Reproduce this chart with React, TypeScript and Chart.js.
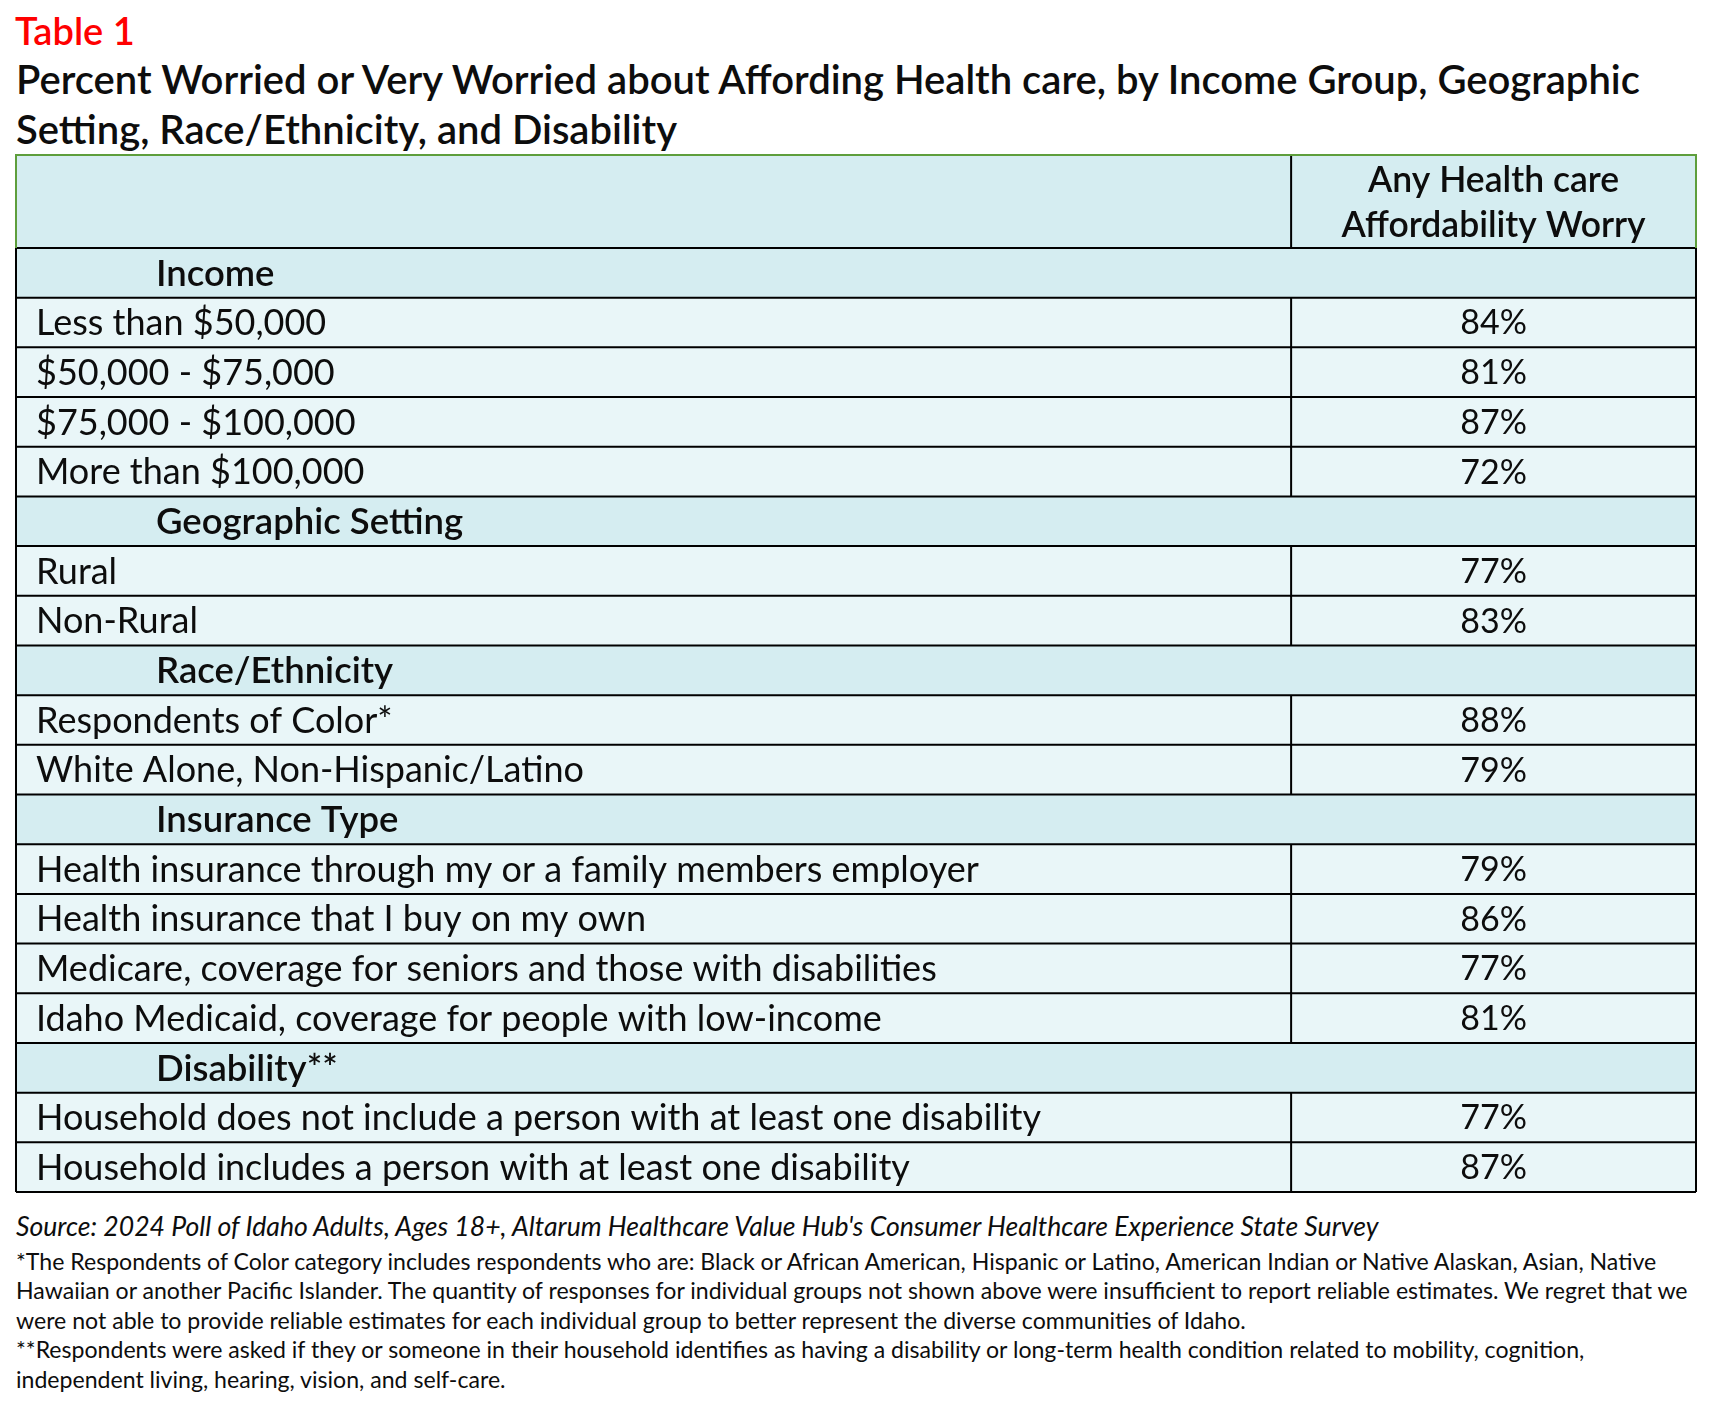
import React, { useEffect, useRef } from "react";
import { Chart, registerables } from "chart.js";

Chart.register(...registerables);

const FONT = "Lato, 'Open Sans', sans-serif";

const tableLabel = "Table 1";
const titleLines = [
  "Percent Worried or Very Worried about Affording Health care, by Income Group, Geographic",
  "Setting, Race/Ethnicity, and Disability",
];
const columnHeader = ["Any Health care", "Affordability Worry"];

const incomeGroups = ["Less than $50,000", "$50,000 - $75,000", "$75,000 - $100,000", "More than $100,000"];
const incomeWorry = [84, 81, 87, 72];

const geoGroups = ["Rural", "Non-Rural"];
const geoWorry = [77, 83];

const raceGroups = ["Respondents of Color*", "White Alone, Non-Hispanic/Latino"];
const raceWorry = [88, 79];

const insuranceGroups = [
  "Health insurance through my or a family members employer",
  "Health insurance that I buy on my own",
  "Medicare, coverage for seniors and those with disabilities",
  "Idaho Medicaid, coverage for people with low-income",
];
const insuranceWorry = [79, 86, 77, 81];

const disabilityGroups = [
  "Household does not include a person with at least one disability",
  "Household includes a person with at least one disability",
];
const disabilityWorry = [77, 87];

const sectionNames = ["Income", "Geographic Setting", "Race/Ethnicity", "Insurance Type", "Disability**"];

const sourceNote =
  "Source: 2024 Poll of Idaho Adults, Ages 18+, Altarum Healthcare Value Hub's Consumer Healthcare Experience State Survey";
const footnoteLines = [
  "*The Respondents of Color category includes respondents who are: Black or African American, Hispanic or Latino, American Indian or Native Alaskan, Asian, Native",
  "Hawaiian or another Pacific Islander. The quantity of responses for individual groups not shown above were insufficient to report reliable estimates. We regret that we",
  "were not able to provide reliable estimates for each individual group to better represent the diverse communities of Idaho.",
  "**Respondents were asked if they or someone in their household identifies as having a disability or long-term health condition related to mobility, cognition,",
  "independent living, hearing, vision, and self-care.",
];

type Row = { label: string; value: number | null; section: boolean };

const groupLabels = [incomeGroups, geoGroups, raceGroups, insuranceGroups, disabilityGroups];
const groupValues = [incomeWorry, geoWorry, raceWorry, insuranceWorry, disabilityWorry];

const rows: Row[] = [];
sectionNames.forEach((name, g) => {
  rows.push({ label: name, value: null, section: true });
  groupLabels[g].forEach((l, i) => rows.push({ label: l, value: groupValues[g][i], section: false }));
});

const SECTION_BG = "#d5edf1";
const DATA_BG = "#e9f6f8";
const HEADER_BG = "#d5edf1";
const GREEN = "#5e9e3c";
const TEXT = "#0d0d0d";
const VALUE_COL_START = 75.9; // percent of table width where the value column begins
const HEADER_H = 93;

const CANVAS_TOP = 150;
const CANVAS_W = 1716;
const CANVAS_H = 1050;

const tablePlugin = {
  id: "tableDraw",
  afterDatasetsDraw(chart: any) {
    const { ctx, chartArea: a, scales } = chart;
    const x = scales.x;
    const y = scales.y;
    const n = rows.length;
    const rowH = (a.bottom - a.top) / n;
    const headerTop = a.top - HEADER_H;
    const divX = x.getPixelForValue(VALUE_COL_START);
    const colCenter = x.getPixelForValue((VALUE_COL_START + 100) / 2);

    ctx.save();
    ctx.fillStyle = HEADER_BG;
    ctx.fillRect(a.left, headerTop, a.right - a.left, HEADER_H);

    ctx.fillStyle = TEXT;
    ctx.textAlign = "center";
    ctx.textBaseline = "middle";
    ctx.font = `600 35.5px ${FONT}`;
    ctx.fillText(columnHeader[0], colCenter, headerTop + 26);
    ctx.fillText(columnHeader[1], colCenter, headerTop + 71);

    rows.forEach((r, i) => {
      const cy = y.getPixelForValue(i) + 1;
      if (r.section) {
        ctx.textAlign = "left";
        ctx.font = `600 36.5px ${FONT}`;
        ctx.fillText(r.label, a.left + 140, cy);
      } else {
        ctx.textAlign = "left";
        ctx.font = `400 36px ${FONT}`;
        ctx.fillText(r.label, a.left + 20, cy);
        ctx.textAlign = "center";
        ctx.font = `400 34px ${FONT}`;
        ctx.fillText(`${r.value}%`, colCenter, cy);
      }
    });

    ctx.strokeStyle = "#000";
    ctx.lineWidth = 2;
    ctx.beginPath();
    for (let k = 0; k <= n; k++) {
      const yy = a.top + k * rowH;
      ctx.moveTo(a.left, yy);
      ctx.lineTo(a.right, yy);
    }
    ctx.moveTo(divX, headerTop);
    ctx.lineTo(divX, a.top);
    rows.forEach((r, i) => {
      if (!r.section) {
        const cy = y.getPixelForValue(i);
        ctx.moveTo(divX, cy - rowH / 2);
        ctx.lineTo(divX, cy + rowH / 2);
      }
    });
    ctx.moveTo(a.left, a.top);
    ctx.lineTo(a.left, a.bottom);
    ctx.moveTo(a.right, a.top);
    ctx.lineTo(a.right, a.bottom);
    ctx.stroke();

    ctx.strokeStyle = GREEN;
    ctx.beginPath();
    ctx.moveTo(a.left, a.top);
    ctx.lineTo(a.left, headerTop);
    ctx.lineTo(a.right, headerTop);
    ctx.lineTo(a.right, a.top);
    ctx.stroke();
    ctx.restore();
  },
};

function TableChart() {
  const ref = useRef<HTMLCanvasElement>(null);
  useEffect(() => {
    if (!ref.current) return;
    const chart = new Chart(ref.current, {
      type: "bar",
      data: {
        labels: rows.map((r) => r.label),
        datasets: [
          {
            label: "rows",
            data: rows.map(() => [0, 100]) as any,
            backgroundColor: rows.map((r) => (r.section ? SECTION_BG : DATA_BG)),
            borderWidth: 0,
            barPercentage: 1,
            categoryPercentage: 1,
          },
        ],
      },
      options: {
        indexAxis: "y",
        responsive: false,
        maintainAspectRatio: false,
        animation: false,
        layout: { padding: { left: 16, right: 20, top: 155 - CANVAS_TOP + HEADER_H, bottom: CANVAS_H - (1192 - CANVAS_TOP) } },
        scales: {
          x: { type: "linear", min: 0, max: 100, display: false },
          y: { type: "category", display: false, offset: true },
        },
        plugins: { legend: { display: false }, tooltip: { enabled: false } },
      },
      plugins: [tablePlugin],
    });
    return () => chart.destroy();
  }, []);
  return (
    <canvas
      ref={ref}
      width={CANVAS_W}
      height={CANVAS_H}
      style={{ position: "absolute", left: 0, top: CANVAS_TOP, width: CANVAS_W, height: CANVAS_H }}
    />
  );
}

export default function App() {
  useEffect(() => {
    document.body.style.margin = "0";
  }, []);
  return (
    <div style={{ position: "relative", width: 1716, height: 1404, background: "#fff", fontFamily: FONT, color: TEXT }}>
      <div style={{ position: "absolute", left: 15, top: 8, fontSize: 38, fontWeight: 600, color: "#ff0000", lineHeight: "44px" }}>
        {tableLabel}
      </div>
      <div style={{ position: "absolute", left: 16, top: 54, fontSize: 40, fontWeight: 600, lineHeight: "50px", whiteSpace: "nowrap" }}>
        {titleLines.map((t, i) => (
          <div key={i}>{t}</div>
        ))}
      </div>
      <TableChart />
      <div style={{ position: "absolute", left: 16, top: 1209, fontSize: 26.6, fontStyle: "italic", lineHeight: "34px", whiteSpace: "nowrap" }}>
        {sourceNote}
      </div>
      <div style={{ position: "absolute", left: 16, top: 1247, fontSize: 23.1, lineHeight: "29.4px", whiteSpace: "nowrap" }}>
        {footnoteLines.map((t, i) => (
          <div key={i}>{t}</div>
        ))}
      </div>
    </div>
  );
}
